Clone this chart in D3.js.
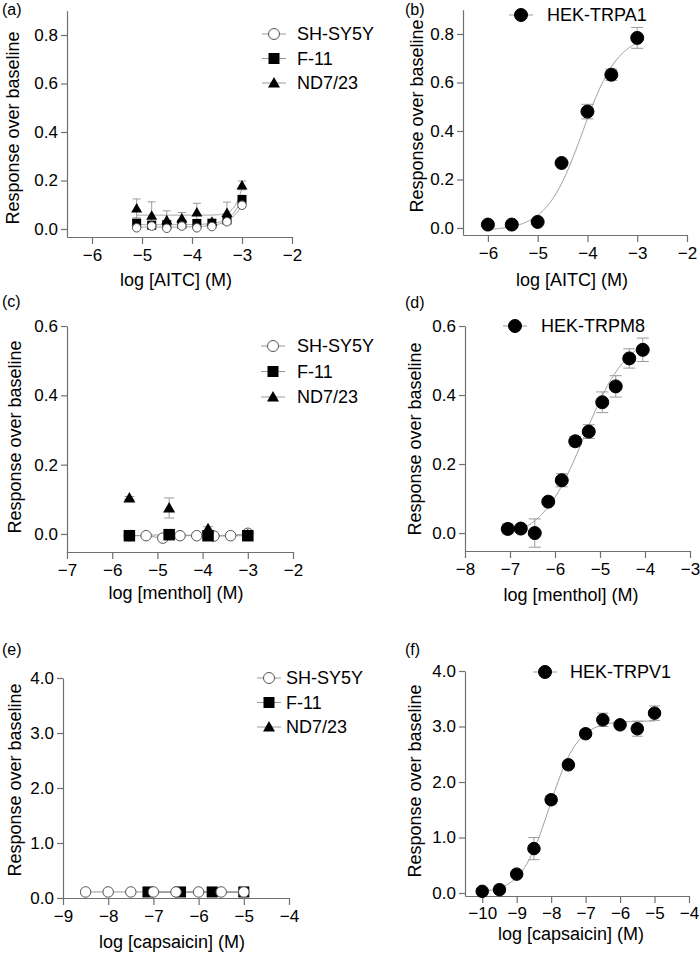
<!DOCTYPE html>
<html><head><meta charset="utf-8">
<script src="https://cdn.jsdelivr.net/npm/d3@7"></script>
<style>
body{margin:0;background:#fff}
text{font-family:Arial,"Liberation Sans",Helvetica,sans-serif;fill:#000}
</style>
</head><body>
<svg id="chart" width="700" height="959"></svg>
<script>
// ---------------- DATA ----------------
const seriesNames = ["SH-SY5Y", "F-11", "ND7/23"];
const panelLabels = ["(a)", "(b)", "(c)", "(d)", "(e)", "(f)"];
const xTitles = ["log [AITC] (M)", "log [AITC] (M)", "log [menthol] (M)", "log [menthol] (M)", "log [capsaicin] (M)", "log [capsaicin] (M)"];
const yTitle = "Response over baseline";

// (a) AITC on cell lines
const aitcCellDoses = [-5.107, -4.806, -4.505, -4.204, -3.903, -3.602, -3.301, -3.0];
const aitcSHSY5Y = [0.005, 0.012, 0.003, 0.012, 0.005, 0.010, 0.030, 0.098];
const aitcSHSY5YErr = [0.004, 0.004, 0.004, 0.004, 0.004, 0.004, 0.006, 0.010];
const aitcF11 = [0.024, 0.016, 0.018, 0.020, 0.023, 0.024, 0.037, 0.122];
const aitcF11Err = [0.006, 0.006, 0.006, 0.006, 0.006, 0.006, 0.008, 0.014];
const aitcND723 = [0.085, 0.055, 0.037, 0.044, 0.069, 0.030, 0.067, 0.180];
const aitcND723Err = [0.039, 0.057, 0.038, 0.024, 0.037, 0.008, 0.044, 0.018];
// fitted curves [bottom, top, logEC50, hill]
const aitcFitSHSY5Y = [0.008, 0.5, -2.67, 2.0];
const aitcFitF11 = [0.018, 0.5, -2.77, 2.4];
const aitcFitND723 = [0.057, 0.45, -2.9, 4.0];

// (b) AITC on HEK-TRPA1
const aitcHekDoses = [-6.0, -5.52, -5.0, -4.52, -4.0, -3.52, -3.0];
const aitcTRPA1 = [0.014, 0.014, 0.025, 0.268, 0.480, 0.632, 0.784];
const aitcTRPA1Err = [0.004, 0.004, 0.004, 0.006, 0.030, 0.023, 0.043];
const aitcFitTRPA1 = [-0.01, 0.80, -4.1, 1.2];

// (c) menthol on cell lines
const mentholSHSY5YDoses = [-5.62, -5.25, -4.88, -4.5, -4.13, -3.75, -3.38, -3.0];
const mentholSHSY5Y = [-0.005, -0.005, -0.012, -0.005, -0.005, -0.006, -0.005, 0.002];
const mentholF11Doses = [-5.62, -4.74, -3.88, -3.0];
const mentholF11 = [-0.005, -0.002, -0.005, -0.005];
const mentholND723Doses = [-5.62, -4.74, -3.88, -3.0];
const mentholND723 = [0.104, 0.075, 0.015, -0.002];
const mentholND723Err = [0.004, 0.029, 0.006, 0.002];

// (d) menthol on HEK-TRPM8
const mentholHekDoses = [-7.05, -6.76, -6.45, -6.15, -5.85, -5.55, -5.25, -4.95, -4.65, -4.35, -4.05];
const mentholTRPM8 = [0.012, 0.013, 0.000, 0.091, 0.153, 0.266, 0.294, 0.379, 0.425, 0.506, 0.531];
const mentholTRPM8Err = [0.014, 0.006, 0.041, 0.006, 0.019, 0.014, 0.020, 0.030, 0.031, 0.028, 0.034];
const mentholFitTRPM8 = [-0.02, 0.58, -5.35, 0.9];

// (e) capsaicin on cell lines
const capsSHSY5YDoses = [-8.5, -8.0, -7.5, -7.0, -6.5, -6.0, -5.5, -5.0];
const capsSHSY5Y = [0.11, 0.11, 0.11, 0.11, 0.11, 0.11, 0.11, 0.11];
const capsF11Doses = [-7.12, -6.4, -5.7, -5.0];
const capsF11 = [0.11, 0.11, 0.11, 0.11];
const capsND723Doses = [-7.12, -6.4, -5.7, -5.0];
const capsND723 = [0.10, 0.10, 0.10, 0.10];

// (f) capsaicin on HEK-TRPV1
const capsHekDoses = [-10, -9.5, -9, -8.5, -8, -7.5, -7, -6.5, -6, -5.5, -5];
const capsTRPV1 = [0.03, 0.06, 0.34, 0.80, 1.68, 2.31, 2.87, 3.12, 3.03, 2.96, 3.24];
const capsTRPV1Err = [0.02, 0.03, 0.04, 0.20, 0.07, 0.05, 0.05, 0.12, 0.04, 0.135, 0.13];
const capsFitTRPV1 = [0.0, 3.1, -8.05, 1.05];

// tick values
const yTicksAB = [0.0, 0.2, 0.4, 0.6, 0.8];
const yTicksCD = [0.0, 0.2, 0.4, 0.6];
const yTicksEF = [0.0, 1.0, 2.0, 3.0, 4.0];
const xTicksA = [-6, -5, -4, -3, -2];
const xTicksC = [-7, -6, -5, -4, -3, -2];
const xTicksD = [-8, -7, -6, -5, -4, -3];
const xTicksE = [-9, -8, -7, -6, -5, -4];
const xTicksF = [-10, -9, -8, -7, -6, -5, -4];

// ---------------- DRAWING ----------------
const svg = d3.select("#chart");
const AXIS = "#707070", CURVE = "#9a9a9a", ERR = "#9a9a9a";
const FONT_TICK = 17, FONT_TITLE = 18, FONT_LEG = 18, FONT_LAB = 16;

function hill(p, x) { return p[0] + (p[1] - p[0]) / (1 + Math.pow(10, (p[2] - x) * p[3])); }

function marker(g, shape, x, y, s) {
  if (shape === "circle") {
    g.append("circle").attr("cx", x).attr("cy", y).attr("r", s / 2)
      .attr("fill", "#000").attr("stroke", "#000");
  } else if (shape === "open") {
    g.append("circle").attr("cx", x).attr("cy", y).attr("r", s / 2 - 0.5)
      .attr("fill", "#fff").attr("stroke", "#555").attr("stroke-width", 1);
  } else if (shape === "square") {
    g.append("rect").attr("x", x - s / 2).attr("y", y - s / 2).attr("width", s).attr("height", s)
      .attr("fill", "#000");
  } else if (shape === "triangle") {
    const area = s * s * Math.sqrt(3) / 4;
    g.append("path").attr("d", d3.symbol(d3.symbolTriangle, area)())
      .attr("transform", `translate(${x},${y + 1})`).attr("fill", "#000");
  }
}

function panel(cfg) {
  const g = svg.append("g");
  const x = d3.scaleLinear().domain(cfg.xDomain).range(cfg.xRange);
  const y = d3.scaleLinear().domain(cfg.yDomain).range(cfg.yRange);
  const xAxisY = y(cfg.yDomain[0]);

  // axes
  const xa = g.append("g").attr("transform", `translate(0,${xAxisY})`)
    .call(d3.axisBottom(x).tickValues(cfg.xTicks).tickFormat(d3.format("d")).tickSize(7).tickSizeOuter(0).tickPadding(cfg.xPad || 5));
  const ya = g.append("g").attr("transform", `translate(${cfg.xRange[0]},0)`)
    .call(d3.axisLeft(y).tickValues(cfg.yTicks).tickFormat(d3.format(".1f")).tickSize(6).tickSizeOuter(0).tickPadding(3));
  [xa, ya].forEach(a => {
    a.select(".domain").attr("stroke", AXIS).attr("stroke-width", 1.2);
    a.selectAll(".tick line").attr("stroke", AXIS).attr("stroke-width", 1.2);
    a.selectAll(".tick text").attr("font-size", FONT_TICK).attr("fill", "#000")
      .style("font-family", "Arial, 'Liberation Sans', sans-serif");
  });

  // titles
  g.append("text").attr("x", cfg.xTitle[0]).attr("y", cfg.xTitle[1]).attr("text-anchor", "middle")
    .attr("font-size", FONT_TITLE).text(cfg.xTitleText);
  g.append("text").attr("transform", `translate(${cfg.yTitle[0]},${cfg.yTitle[1]}) rotate(-90)`)
    .attr("text-anchor", "middle").attr("font-size", FONT_TITLE).text(yTitle);
  g.append("text").attr("x", cfg.label[0]).attr("y", cfg.label[1]).attr("font-size", FONT_LAB).text(cfg.labelText);

  // series lines
  cfg.series.forEach(s => {
    if (s.fit) {
      const xs = d3.range(0, 201).map(i => s.fitRange[0] + (s.fitRange[1] - s.fitRange[0]) * i / 200);
      g.append("path").datum(xs)
        .attr("d", d3.line().x(d => x(d)).y(d => y(hill(s.fit, d))))
        .attr("fill", "none").attr("stroke", CURVE).attr("stroke-width", 1);
    } else if (s.connect) {
      g.append("path").datum(s.xs.map((d, i) => [d, s.ys[i]]))
        .attr("d", d3.line().x(d => x(d[0])).y(d => y(d[1])))
        .attr("fill", "none").attr("stroke", CURVE).attr("stroke-width", 1);
    }
  });
  // error bars
  cfg.series.forEach(s => {
    if (!s.err) return;
    s.xs.forEach((d, i) => {
      const e = s.err[i]; if (!e) return;
      const cx = x(d), y1 = y(s.ys[i] - e), y2 = y(s.ys[i] + e), cw = s.cap;
      g.append("line").attr("x1", cx).attr("x2", cx).attr("y1", y1).attr("y2", y2).attr("stroke", ERR).attr("stroke-width", 1);
      [y1, y2].forEach(yy => g.append("line").attr("x1", cx - cw / 2).attr("x2", cx + cw / 2)
        .attr("y1", yy).attr("y2", yy).attr("stroke", ERR).attr("stroke-width", 1));
    });
  });
  // markers
  cfg.series.forEach(s => {
    s.xs.forEach((d, i) => marker(g, s.shape, x(d), y(s.ys[i]), s.size));
  });

  // legend
  cfg.legend.items.forEach((it, i) => {
    const ly = cfg.legend.y + i * cfg.legend.dy;
    g.append("line").attr("x1", cfg.legend.x - 12).attr("x2", cfg.legend.x + 12)
      .attr("y1", ly).attr("y2", ly).attr("stroke", CURVE).attr("stroke-width", 1);
    marker(g, it.shape, cfg.legend.x, ly, it.size);
    g.append("text").attr("x", cfg.legend.tx).attr("y", ly).attr("dy", "0.35em")
      .attr("font-size", FONT_LEG).text(it.name);
  });
}

const cellLegend = [
  { name: seriesNames[0], shape: "open", size: 12 },
  { name: seriesNames[1], shape: "square", size: 11 },
  { name: seriesNames[2], shape: "triangle", size: 12 }
];

// (a)
panel({
  xDomain: [-6.5, -2], xRange: [67, 292], yDomain: [-0.033, 0.9], yRange: [237, 10.75],
  xTicks: xTicksA, yTicks: yTicksAB,
  xTitle: [176, 286], xTitleText: xTitles[0], yTitle: [19, 128], label: [2, 15], labelText: panelLabels[0],
  series: [
    { xs: aitcCellDoses, ys: aitcND723, err: aitcND723Err, shape: "triangle", size: 11, cap: 8, fit: aitcFitND723, fitRange: [-5.107, -3.0] },
    { xs: aitcCellDoses, ys: aitcF11, err: aitcF11Err, shape: "square", size: 9, cap: 8, fit: aitcFitF11, fitRange: [-5.107, -3.0] },
    { xs: aitcCellDoses, ys: aitcSHSY5Y, err: aitcSHSY5YErr, shape: "open", size: 9.5, cap: 8, fit: aitcFitSHSY5Y, fitRange: [-5.107, -3.0] }
  ],
  legend: { x: 274, tx: 297, y: 34, dy: 24.5, items: cellLegend }
});

// (b)
panel({
  xDomain: [-6.5, -2], xRange: [463, 687], yDomain: [-0.029, 0.9], yRange: [235, 9.75],
  xTicks: xTicksA, yTicks: yTicksAB,
  xTitle: [572, 286], xTitleText: xTitles[1], yTitle: [423, 116], label: [405, 15], labelText: panelLabels[1],
  series: [
    { xs: aitcHekDoses, ys: aitcTRPA1, err: aitcTRPA1Err, shape: "circle", size: 13, cap: 12, fit: aitcFitTRPA1, fitRange: [-6.0, -3.0] }
  ],
  legend: { x: 521, tx: 547, y: 15, dy: 24, items: [{ name: "HEK-TRPA1", shape: "circle", size: 13 }] }
});

// (c)
panel({
  xDomain: [-7, -2], xRange: [67, 293], yDomain: [-0.052, 0.6], yRange: [552, 326],
  xTicks: xTicksC, yTicks: yTicksCD,
  xTitle: [176, 599], xTitleText: xTitles[2], yTitle: [21, 437], label: [2, 307], labelText: panelLabels[2],
  series: [
    { xs: mentholSHSY5YDoses, ys: mentholSHSY5Y, shape: "open", size: 11.5, connect: true },
    { xs: mentholND723Doses, ys: mentholND723, err: mentholND723Err, shape: "triangle", size: 12, cap: 10 },
    { xs: mentholF11Doses, ys: mentholF11, shape: "square", size: 11.5, connect: true }
  ],
  legend: { x: 273, tx: 297, y: 346, dy: 25.5, items: cellLegend }
});

// (d)
panel({
  xDomain: [-8, -3], xRange: [465, 690], yDomain: [-0.052, 0.6], yRange: [551, 326],
  xTicks: xTicksD, yTicks: yTicksCD,
  xTitle: [571, 601], xTitleText: xTitles[3], yTitle: [421, 439], label: [405, 308], labelText: panelLabels[3],
  series: [
    { xs: mentholHekDoses, ys: mentholTRPM8, err: mentholTRPM8Err, shape: "circle", size: 13, cap: 12, fit: mentholFitTRPM8, fitRange: [-7.05, -4.05] }
  ],
  legend: { x: 515, tx: 541, y: 326, dy: 24, items: [{ name: "HEK-TRPM8", shape: "circle", size: 13 }] }
});

// (e)
panel({
  xDomain: [-9, -4], xRange: [63, 289], yDomain: [0, 4.0], yRange: [898, 678],
  xTicks: xTicksE, yTicks: yTicksEF,
  xTitle: [172, 948], xTitleText: xTitles[4], yTitle: [21, 780], label: [2, 655], labelText: panelLabels[4],
  series: [
    { xs: capsND723Doses, ys: capsND723, shape: "triangle", size: 11, connect: true },
    { xs: capsF11Doses, ys: capsF11, shape: "square", size: 11, connect: true },
    { xs: capsSHSY5YDoses, ys: capsSHSY5Y, shape: "open", size: 11.5, connect: true }
  ],
  legend: { x: 269, tx: 286, y: 678, dy: 24.5, items: cellLegend }
});

// (f)
panel({
  xDomain: [-10.5, -4], xRange: [465, 689], yDomain: [-0.054, 4.0], yRange: [896, 671],
  xTicks: xTicksF, yTicks: yTicksEF, xPad: 4,
  xTitle: [571, 940], xTitleText: xTitles[5], yTitle: [421, 781], label: [405, 655], labelText: panelLabels[5],
  series: [
    { xs: capsHekDoses, ys: capsTRPV1, err: capsTRPV1Err, shape: "circle", size: 12.5, cap: 11, fit: capsFitTRPV1, fitRange: [-10, -5] }
  ],
  legend: { x: 545, tx: 570, y: 672, dy: 24, items: [{ name: "HEK-TRPV1", shape: "circle", size: 13 }] }
});
</script>
</body></html>
